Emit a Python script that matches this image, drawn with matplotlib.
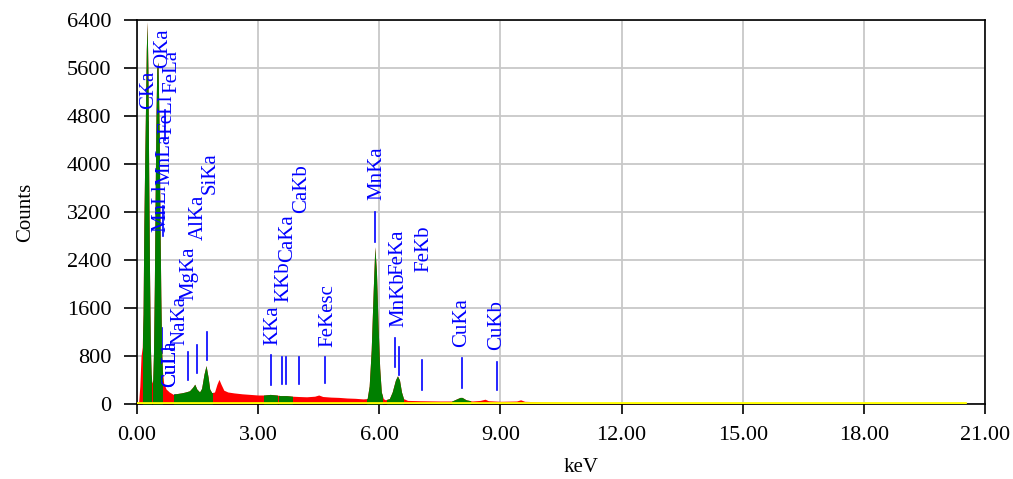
import matplotlib
matplotlib.use("Agg")
import matplotlib.pyplot as plt
from matplotlib.patches import Rectangle
import numpy as np

# ---- spectrum data (keV, counts) ----
energy = [0.00, 0.04, 0.07, 0.10, 0.13, 0.15, 0.17, 0.19, 0.21, 0.23, 0.25, 0.27, 0.29, 0.31,
          0.33, 0.35, 0.37, 0.39, 0.41, 0.43, 0.45, 0.47, 0.49, 0.52, 0.55, 0.57, 0.59, 0.61,
          0.63, 0.66, 0.72, 0.80, 0.85, 0.90, 0.95, 1.00, 1.10, 1.20, 1.30, 1.38, 1.43,
          1.48, 1.55, 1.60, 1.66, 1.71, 1.76, 1.80, 1.85, 1.92, 1.98, 2.03, 2.08, 2.15, 2.25,
          2.40, 2.60, 2.80, 3.00, 3.15, 3.30, 3.45, 3.55, 3.70, 3.85, 4.00, 4.20, 4.40, 4.50,
          4.60, 4.80, 5.00, 5.20, 5.40, 5.60, 5.70, 5.75, 5.80, 5.85, 5.89, 5.93, 5.97, 6.01,
          6.05, 6.10, 6.15, 6.25, 6.32, 6.40, 6.45, 6.50, 6.55, 6.60, 6.70, 7.00, 7.50, 7.80,
          7.90, 8.00, 8.05, 8.15, 8.30, 8.50, 8.62, 8.70, 9.00, 9.40, 9.50, 9.60, 10.0, 11.0,
          12.0, 13.0, 14.0, 15.0, 16.0, 17.0, 21.0]
counts = [0, 30, 300, 800, 950, 1500, 3000, 4000, 4900, 5900, 6370, 5600, 3800, 2200,
          1000, 500, 350, 400, 900, 2000, 3500, 4800, 5600, 5700, 4500, 3000, 1800, 900,
          550, 350, 250, 200, 180, 160, 170, 175, 185, 200, 220, 280, 330,
          250, 200, 260, 500, 640, 450, 250, 190, 200, 330, 410, 330, 230, 200,
          185, 170, 160, 150, 150, 160, 150, 140, 140, 130, 125, 120, 130, 150,
          125, 115, 110, 100, 95, 85, 90, 300, 900, 1900, 2620, 2200, 1300, 600,
          200, 90, 70, 90, 200, 400, 470, 400, 200, 90, 60, 55, 50, 50,
          80, 110, 110, 70, 50, 60, 80, 55, 45, 50, 70, 45, 35, 25,
          20, 15, 10, 5, 2, 0, 0]

# regions of interest (green)
roi_start = [0.16, 0.40, 0.92, 3.14, 3.51, 5.70, 6.20, 7.81]
roi_end = [0.34, 0.61, 1.85, 3.47, 3.84, 6.07, 6.59, 8.24]

# baseline (yellow)
base_energy = [0.0, 20.5]
base_counts = [15, 15]

# element labels
lab_text = ["CKa", "OKa", "FeLa", "FeLl", "MnLa", "MnLl", "CuLa", "CuLl", "NaKa", "MgKa",
            "AlKa", "SiKa", "KKa", "KKb", "CaKa", "CaKb", "FeKesc", "MnKa", "MnKb", "FeKa",
            "FeKb", "CuKa", "CuKb"]
lab_energy = [0.277, 0.525, 0.705, 0.615, 0.637, 0.556, 0.930, 0.811, 1.041, 1.253,
              1.486, 1.739, 3.312, 3.589, 3.690, 4.012, 4.660, 5.894, 6.489, 6.398,
              7.057, 8.040, 8.904]
# label annotation placement (counts): text bottom, marker top, marker bottom
txt_y = [4920, 5600, 5180, 4500, 3650, 2870, 280, 280, 980, 1730, 2730, 3500, 980, 1700,
         2370, 3180, 950, 3400, 1280, 2150, 2200, 950, 900]
mk_top = [4700, 5300, 4900, 1270, 3300, 2680, 150, 150, 150, 870, 980, 1200, 820, 780,
          780, 780, 780, 3200, 950, 1100, 730, 770, 700]
mk_bot = [4200, 4800, 4400, 850, 2800, 2280, 0, 0, 0, 400, 520, 730, 320, 330,
          330, 330, 350, 2700, 480, 620, 230, 270, 230]
txt_dx = [0.0, 0.12, 0.15, 0.13, 0.06, 0.03, -0.09, 0.02, 0.02, 0.03, 0.04, 0.08, 0.05, 0.05,
          0.03, 0.07, 0.06, 0.04, 0.0, 0.07, 0.04, 0.0, 0.01]

plt.rcParams['font.family'] = ['Liberation Serif', 'DejaVu Serif']

fig = plt.figure(figsize=(10.13, 4.79), dpi=100)
ax = fig.add_axes([137 / 1013, 75 / 479, 848 / 1013, 384 / 479])

E = np.array(energy)
C = np.array(counts)

ax.fill_between(E, 0, C, color='#ff0000', lw=0, zorder=2)
for s, e in zip(roi_start, roi_end):
    poly = ax.fill_between(E, 0, C, color='#007f00', lw=0, zorder=3)
    rect = Rectangle((s, -100), e - s, 8000, transform=ax.transData)
    poly.set_clip_path(rect)
ax.plot(base_energy, base_counts, color='#ffff00', lw=2, zorder=4)

for t, en, ty, mt, mb, dx in zip(lab_text, lab_energy, txt_y, mk_top, mk_bot, txt_dx):
    ax.plot([en, en], [mb, mt], color='#0000ff', lw=1.2, zorder=1.5)
    ax.text(en + dx, ty, t, rotation=90, ha='center', va='bottom', color='#0000ff',
            fontsize=15, zorder=6)

ax.set_xlim(0, 21)
ax.set_ylim(0, 6400)
ax.set_xticks(np.arange(0, 21.01, 3))
ax.set_xticklabels([f"{v:.2f}" for v in np.arange(0, 21.01, 3)])
ax.set_yticks(np.arange(0, 6401, 800))
ax.grid(True, color='#c8c8c8', lw=1.3, zorder=0)
ax.set_axisbelow(True)
ax.tick_params(axis='both', direction='out', width=1.2, labelsize=16,
               top=False, right=False)
ax.tick_params(axis='y', length=9.5, pad=9)
ax.tick_params(axis='x', length=7, pad=9)
for sp in ax.spines.values():
    sp.set_linewidth(1.2)
ax.set_xlabel("keV", fontsize=15)
ax.xaxis.set_label_coords(0.524, -0.14)
ax.set_ylabel("Counts", fontsize=15)
ax.yaxis.set_label_coords(-0.12, 0.5)

fig.savefig("out.png", dpi=100)
